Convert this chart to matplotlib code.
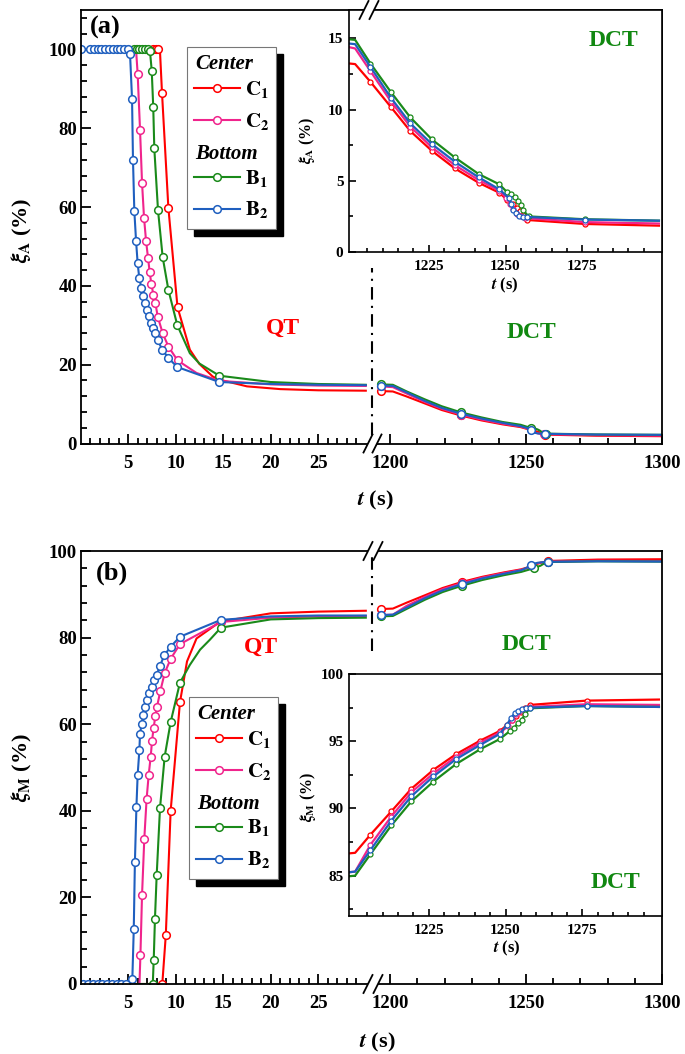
import numpy as np
import matplotlib
matplotlib.use('Agg')
import matplotlib.pyplot as plt
from matplotlib.lines import Line2D
from matplotlib.patches import Rectangle

# ------------------------------------------------------------------ data
series = ['C1', 'C2', 'B1', 'B2']
labels = {'C1': r'$\mathbf{C}_{\mathbf{1}}$', 'C2': r'$\mathbf{C}_{\mathbf{2}}$',
          'B1': r'$\mathbf{B}_{\mathbf{1}}$', 'B2': r'$\mathbf{B}_{\mathbf{2}}$'}
colors = {'C1': '#ff0000', 'C2': '#f0248c', 'B1': '#1a8a1a', 'B2': '#1f5fbf'}

# ---- panel (a): austenite fraction, quenching (QT) part
a_qt_t_C1 = [0, 7.6, 7.9, 8.18, 8.35, 8.57, 9.24, 10.2, 11.5, 12.5, 13.9, 14.6, 17.5, 21, 25, 30]
a_qt_v_C1 = [100, 100, 100, 100, 100, 89.0, 59.8, 34.6, 23.8, 20.2, 17.0, 16.2, 14.5, 13.8, 13.5, 13.4]
a_qt_nomk_C1 = [0, 4, 8, 9, 10, 11, 12, 13, 14, 15]

a_qt_t_C2 = [0, 5.84, 6.01, 6.26, 6.47, 6.68, 6.89, 7.1, 7.27, 7.45, 7.66, 7.87, 8.12, 8.64, 9.24,
             10.2, 12.2, 14.6, 20, 25, 30]
a_qt_v_C2 = [100, 100, 93.8, 79.6, 66.2, 57.3, 51.5, 47.1, 43.6, 40.5, 37.8, 35.7, 32.2, 28.0, 24.6,
             21.1, 17.9, 15.9, 15.0, 14.7, 14.6]
a_qt_nomk_C2 = [0, 16, 18, 19, 20]

a_qt_t_B1 = [0, 5.6, 5.9, 6.2, 6.5, 6.8, 7.05, 7.3, 7.49, 7.65, 7.76, 8.15, 8.64, 9.24, 10.18,
             11.5, 12.5, 14.6, 20, 25, 30]
a_qt_v_B1 = [100, 100, 100, 100, 100, 100, 100, 99.7, 94.6, 85.3, 74.9, 59.2, 47.3, 39.0, 30.0,
             22.9, 20.3, 17.2, 15.6, 15.1, 14.9]
a_qt_nomk_B1 = [0, 15, 16, 18, 19, 20]

a_qt_t_B2 = [0, 1.0, 1.4, 1.8, 2.2, 2.6, 3.0, 3.4, 3.8, 4.2, 4.6, 5.0, 5.21, 5.42, 5.52, 5.66, 5.84,
             6.01, 6.18, 6.4, 6.6, 6.8, 7.03, 7.2, 7.41, 7.66, 7.83, 8.12, 8.6, 9.24, 10.18, 14.6,
             20, 25, 30]
a_qt_v_B2 = [100, 100, 100, 100, 100, 100, 100, 100, 100, 100, 100, 100, 98.8, 87.4, 71.9, 59.0,
             51.5, 45.7, 42.0, 39.5, 37.5, 35.7, 34.0, 32.3, 30.7, 29.3, 28.0, 26.2, 23.8, 21.7,
             19.4, 15.6, 15.1, 14.9, 14.8]
a_qt_nomk_B2 = [32, 33, 34]

# ---- panel (a): deep cryogenic treatment (DCT) part
a_dct_t_C1 = [1196.5, 1201, 1206, 1212.6, 1219, 1226, 1233.5, 1241.3, 1248, 1250.6, 1252.3, 1253.7,
              1254.7, 1255.8, 1257.1, 1275.8, 1300]
a_dct_v_C1 = [13.3, 13.2, 11.95, 10.2, 8.49, 7.11, 5.87, 4.86, 4.16, 3.65, 3.37, 3.11, 2.88, 2.6,
              2.25, 1.97, 1.85]
a_dct_mk_C1 = [0, 5, 14]

a_dct_t_C2 = [1196.5, 1201, 1206, 1212.6, 1219, 1226, 1233.5, 1241.3, 1248, 1250.3, 1251.5, 1252.5,
              1253.6, 1255.0, 1256.5, 1275.8, 1300]
a_dct_v_C2 = [14.5, 14.3, 12.7, 10.6, 8.8, 7.35, 6.1, 5.05, 4.3, 3.8, 3.4, 3.0, 2.7, 2.5, 2.38,
              2.1, 2.0]
a_dct_mk_C2 = [0, 5, 14]

a_dct_t_B1 = [1196.5, 1201, 1206, 1212.6, 1219, 1226, 1233.5, 1241.3, 1248, 1250.4, 1251.9, 1253.1,
              1254.2, 1255.0, 1255.7, 1257.5, 1275.8, 1300]
a_dct_v_B1 = [15.0, 14.9, 13.24, 11.25, 9.45, 7.91, 6.64, 5.47, 4.75, 4.23, 4.05, 3.84, 3.58, 3.30,
              2.95, 2.5, 2.3, 2.2]
a_dct_mk_B1 = [0, 5, 10, 15]

a_dct_t_B2 = [1196.5, 1201, 1206, 1212.6, 1219, 1226, 1233.5, 1241.3, 1248, 1251.2, 1251.9, 1252.6,
              1253.3, 1254.4, 1255.7, 1257.1, 1275.8, 1300]
a_dct_v_B2 = [14.7, 14.6, 13.0, 10.85, 9.03, 7.58, 6.34, 5.24, 4.40, 3.77, 3.35, 2.95, 2.71, 2.53,
              2.48, 2.46, 2.28, 2.2]
a_dct_mk_B2 = [0, 5, 10, 15]

# ---- panel (b): martensite fraction, QT part
b_qt_t_C1 = [0, 8.6, 8.97, 9.48, 10.46, 11.2, 12.2, 14.7, 20, 25, 30]
b_qt_v_C1 = [0, 0, 11.3, 40.0, 65.1, 74.5, 79.8, 83.7, 85.6, 86.0, 86.2]
b_qt_nomk_C1 = [0, 5, 6, 7, 8, 9, 10]

b_qt_t_C2 = [0, 6.2, 6.3, 6.47, 6.71, 6.95, 7.17, 7.38, 7.52, 7.69, 7.87, 8.04, 8.4, 8.85, 9.48,
             10.46, 14.77, 20, 25, 30]
b_qt_v_C2 = [0, 0, 6.6, 20.5, 33.6, 42.7, 48.3, 52.5, 56.1, 59.2, 61.8, 64.0, 67.7, 71.8, 75.1,
             78.5, 83.6, 84.6, 84.9, 85.0]
b_qt_nomk_C2 = [0, 1, 17, 18, 19]

b_qt_t_B1 = [0, 7.6, 7.7, 7.83, 8.01, 8.36, 8.85, 9.48, 10.46, 11.5, 12.57, 13.6, 14.77, 20, 25, 30]
b_qt_v_B1 = [0, 0, 5.6, 15.1, 25.1, 40.6, 52.5, 60.5, 69.6, 73.7, 77.2, 79.5, 82.3, 84.2, 84.5, 84.6]
b_qt_nomk_B1 = [0, 9, 10, 11, 13, 14, 15]

b_qt_t_B2 = [0, 0.3, 0.8, 1.3, 1.8, 2.3, 2.8, 3.3, 3.8, 4.3, 4.8, 5.45, 5.6, 5.72, 5.88, 6.01, 6.19,
             6.26, 6.43, 6.61, 6.82, 7.03, 7.24, 7.48, 7.73, 8.01, 8.36, 8.81, 9.48, 10.46, 14.77,
             20, 25, 30]
b_qt_v_B2 = [0, 0, 0, 0, 0, 0, 0, 0, 0, 0, 0, 1.1, 12.6, 28.1, 40.9, 48.3, 54.0, 57.8, 60.1, 62.1,
             64.0, 65.7, 67.2, 68.7, 70.1, 71.4, 73.5, 75.9, 77.9, 80.2, 84.1, 84.9, 85.1, 85.1]
b_qt_nomk_B2 = [0, 31, 32, 33]

# ---- panel (b): DCT part
b_dct_t_C1 = [1196.5, 1201, 1206, 1212.8, 1219.3, 1226.5, 1233.9, 1241.8, 1248.2, 1250.5, 1252,
              1253.5, 1255, 1256.5, 1258, 1276.4, 1300]
b_dct_v_C1 = [86.6, 86.7, 88.05, 89.78, 91.46, 92.87, 94.04, 95.05, 95.77, 96.2, 96.6, 96.9, 97.2,
              97.45, 97.7, 98.02, 98.1]
b_dct_mk_C1 = [0, 5, 14]

b_dct_t_C2 = [1196.5, 1201, 1206, 1212.8, 1219.3, 1226.5, 1233.9, 1241.8, 1248.2, 1250.8, 1252.2,
              1253.5, 1254.8, 1256.2, 1258, 1276.4, 1300]
b_dct_v_C2 = [85.2, 85.3, 87.3, 89.4, 91.2, 92.6, 93.85, 94.9, 95.65, 96.1, 96.6, 97.0, 97.25,
              97.4, 97.55, 97.75, 97.7]
b_dct_mk_C2 = [0, 5, 14]

b_dct_t_B1 = [1196.5, 1201, 1206, 1212.8, 1219.3, 1226.5, 1233.9, 1241.8, 1248.2, 1251.5, 1252.8,
              1254.1, 1255.3, 1256.4, 1258, 1276.4, 1300]
b_dct_v_B1 = [84.9, 85.0, 86.6, 88.74, 90.52, 92.0, 93.3, 94.41, 95.17, 95.77, 96.0, 96.34, 96.6,
              97.03, 97.45, 97.62, 97.55]
b_dct_mk_B1 = [0, 5, 10, 14]

b_dct_t_B2 = [1196.5, 1201, 1206, 1212.8, 1219.3, 1226.5, 1233.9, 1241.8, 1248.2, 1250.4, 1251.7,
              1253.0, 1254.2, 1255.5, 1256.8, 1258, 1276.4, 1300]
b_dct_v_B2 = [85.2, 85.3, 86.9, 89.1, 90.9, 92.38, 93.67, 94.73, 95.55, 96.2, 96.7, 97.08, 97.28,
              97.38, 97.45, 97.5, 97.62, 97.55]
b_dct_mk_B2 = [0, 5, 10, 15]

main_xticks = [5, 10, 15, 20, 25, 1200, 1250, 1300]
main_xticklabels = ['5', '10', '15', '20', '25', '1200', '1250', '1300']
inset_xticks = [1225, 1250, 1275]

g = globals()

# ------------------------------------------------------------------ style
plt.rcParams['font.family'] = ['Liberation Serif', 'DejaVu Serif']
plt.rcParams['font.weight'] = 'bold'
plt.rcParams['mathtext.fontset'] = 'stix'
plt.rcParams['axes.linewidth'] = 1.3

W, H = 685, 1054
fig = plt.figure(figsize=(W / 100, H / 100), dpi=100)


def fx(x):
    return x / W


def fy(y):
    return 1 - y / H


def rect(l, t, r, b):
    return [l / W, 1 - b / H, (r - l) / W, (b - t) / H]


# broken x axis via a piecewise-linear function scale
A_L, A_R = 80.5, 662.0
L_END, R_START = 30.5, 1195.0
KL = 9.51
GAP = 6.0
U1 = L_END * KL
U2 = U1 + GAP
KR = ((A_R - A_L) - U2) / (1300 - R_START)


def fwd(t):
    t = np.asarray(t, dtype=float)
    return np.where(t <= L_END, t * KL,
                    np.where(t >= R_START, U2 + (t - R_START) * KR,
                             U1 + (t - L_END) * GAP / (R_START - L_END)))


def inv(u):
    u = np.asarray(u, dtype=float)
    return np.where(u <= U1, u / KL,
                    np.where(u >= U2, R_START + (u - U2) / KR,
                             L_END + (u - U1) * (R_START - L_END) / GAP))


def style_main(ax, ylim, yticks, yminor):
    ax.set_xscale('function', functions=(fwd, inv))
    ax.set_xlim(0, 1300)
    ax.set_ylim(*ylim)
    ax.set_xticks(main_xticks)
    ax.set_xticklabels(main_xticklabels)
    minor = [m for m in range(1, 30) if m % 5] + [1210, 1220, 1230, 1240, 1260, 1270, 1280, 1290]
    ax.set_xticks(minor, minor=True)
    ax.set_yticks(yticks)
    ax.set_yticks(yminor, minor=True)
    ax.tick_params(which='both', direction='in', top=False, right=False, width=1.3)
    ax.tick_params(which='major', length=7, labelsize=13.5)
    ax.tick_params(which='minor', length=4)
    ax.tick_params(axis='x', which='major', pad=8)
    ax.tick_params(axis='y', which='major', pad=2.5)


def style_inset(ax, ylim, yticks, yminor):
    ax.set_xlim(1199, 1301)
    ax.set_ylim(*ylim)
    ax.set_xticks(inset_xticks)
    ax.set_xticks([m for m in range(1205, 1300, 5) if m not in inset_xticks], minor=True)
    ax.set_yticks(yticks)
    ax.set_yticks(yminor, minor=True)
    ax.tick_params(which='both', direction='in', top=False, right=False, width=1.2)
    ax.tick_params(which='major', length=5, labelsize=11)
    ax.tick_params(which='minor', length=3)
    ax.tick_params(axis='x', which='major', pad=6)
    ax.tick_params(axis='y', which='major', pad=4)
    for s in ax.spines.values():
        s.set_linewidth(1.2)


def mk_from_nomk(n, nomk):
    return [i for i in range(n) if i not in nomk]


def draw_panel(p, ax_main, ax_in):
    for s in series:
        c = colors[s]
        qt_t = g[f'{p}_qt_t_{s}']
        qt_v = g[f'{p}_qt_v_{s}']
        qt_mk = mk_from_nomk(len(qt_t), g[f'{p}_qt_nomk_{s}'])
        dt = g[f'{p}_dct_t_{s}']
        dv = g[f'{p}_dct_v_{s}']
        dmk = g[f'{p}_dct_mk_{s}']
        kw = dict(color=c, lw=1.5, marker='o', ms=5.5, mfc='white', mec=c, mew=1.1)
        ax_main.plot(qt_t, qt_v, markevery=qt_mk, **kw)
        ax_main.plot(dt, dv, markevery=dmk, **kw)
        imk = [i for i in range(len(dt)) if i not in (1, len(dt) - 1)]
        ax_in.plot(dt, dv, color=c, lw=1.6, marker='o', ms=3.6, mfc='white', mec=c, mew=0.9,
                   markevery=imk)


def draw_legend(x0, y0):
    w, h = 89, 182
    fig.add_artist(Rectangle((fx(x0 + 7), fy(y0 + 7 + h)), w / W, h / H, transform=fig.transFigure,
                             facecolor='black', edgecolor='black', zorder=20))
    fig.add_artist(Rectangle((fx(x0), fy(y0 + h)), w / W, h / H, transform=fig.transFigure,
                             facecolor='white', edgecolor='#777777', lw=0.8, zorder=21))
    fig.text(fx(x0 + 8), fy(y0 + 17), 'Center', fontsize=15, style='italic', fontweight='bold',
             va='center', ha='left', zorder=22)
    fig.text(fx(x0 + 8), fy(y0 + 107), 'Bottom', fontsize=15, style='italic', fontweight='bold',
             va='center', ha='left', zorder=22)
    rows = {'C1': 41, 'C2': 73, 'B1': 130, 'B2': 162}
    for s in series:
        yr = y0 + rows[s]
        c = colors[s]
        fig.add_artist(Line2D([fx(x0 + 7), fx(x0 + 53)], [fy(yr), fy(yr)], transform=fig.transFigure,
                              color=c, lw=1.5, zorder=22))
        fig.add_artist(Line2D([fx(x0 + 30)], [fy(yr)], transform=fig.transFigure, color=c, lw=0,
                              marker='o', ms=5.5, mfc='white', mec=c, mew=1.1, zorder=23))
        fig.text(fx(x0 + 58), fy(yr + 1), labels[s], fontsize=15, va='center', ha='left', zorder=22)


def slash(xc, yc, dx=4.5, dy=9):
    fig.add_artist(Line2D([fx(xc - dx), fx(xc + dx)], [fy(yc + dy), fy(yc - dy)],
                          transform=fig.transFigure, color='black', lw=1.3, zorder=31))


def axis_break(x1, x2, yc):
    fig.add_artist(Line2D([fx(x1), fx(x2)], [fy(yc), fy(yc)], transform=fig.transFigure,
                          color='white', lw=3, zorder=30, solid_capstyle='butt'))
    slash(x1, yc)
    slash(x2, yc)


def dashdot(ax, y0, y1):
    xf = (372 - A_L) / (A_R - A_L)
    ax.plot([xf, xf], [y0, y1], transform=ax.transAxes, color='black', lw=1.5,
            ls=(0, (6, 3, 1, 3)), clip_on=False, zorder=5)


xi_t = r'$\mathbfit{t}$ (s)'

# ------------------------------------------------------------------ panel (a)
axA = fig.add_axes(rect(80.5, 10, 662, 443.5))
style_main(axA, (0, 110), list(range(0, 101, 20)), [v for v in range(4, 110, 4) if v % 20])
axAi = fig.add_axes(rect(349, 10, 662, 252))
style_inset(axAi, (0, 17), [0, 5, 10, 15], [2.5, 7.5, 12.5])
draw_panel('a', axA, axAi)
dashdot(axA, 2.2 / 110, 44.6 / 110)

fig.text(fx(105), fy(27), '(a)', fontsize=19, ha='center', va='center')
fig.text(fx(283), fy(328), 'QT', fontsize=17, color='#ff0000', ha='center', va='center')
fig.text(fx(531), fy(332), 'DCT', fontsize=17, color='#118811', ha='center', va='center')
fig.text(fx(613), fy(41), 'DCT', fontsize=17, color='#118811', ha='center', va='center')
fig.text(fx(22), fy(230), r'$\xi_{\mathbf{A}}$ (%)', fontsize=16, rotation=90, ha='center', va='center')
fig.text(fx(307), fy(140), r'$\xi_{\mathbf{A}}$ (%)', fontsize=11.5, rotation=90, ha='center', va='center')
fig.text(fx(375), fy(500), xi_t, fontsize=16, ha='center', va='center')
fig.text(fx(505), fy(285), xi_t, fontsize=12, ha='center', va='center')
draw_legend(187, 47)
axis_break(368, 377, 443.5)
axis_break(364, 374, 10)

# ------------------------------------------------------------------ panel (b)
axB = fig.add_axes(rect(80.5, 551, 662, 984))
style_main(axB, (0, 100), list(range(0, 101, 20)), [v for v in range(4, 100, 4) if v % 20])
axBi = fig.add_axes(rect(349, 674, 662, 916))
style_inset(axBi, (82, 100), [85, 90, 95, 100], [82.5, 87.5, 92.5, 97.5])
draw_panel('b', axB, axBi)
dashdot(axB, 76.8 / 100, 0.995)

fig.text(fx(112), fy(573), '(b)', fontsize=19, ha='center', va='center')
fig.text(fx(261), fy(647), 'QT', fontsize=17, color='#ff0000', ha='center', va='center')
fig.text(fx(526), fy(644), 'DCT', fontsize=17, color='#118811', ha='center', va='center')
fig.text(fx(615), fy(883), 'DCT', fontsize=17, color='#118811', ha='center', va='center')
fig.text(fx(22), fy(768), r'$\xi_{\mathbf{M}}$ (%)', fontsize=16, rotation=90, ha='center', va='center')
fig.text(fx(308), fy(797), r'$\xi_{\mathbf{M}}$ (%)', fontsize=11.5, rotation=90, ha='center', va='center')
fig.text(fx(377), fy(1042), xi_t, fontsize=16, ha='center', va='center')
fig.text(fx(507), fy(948), xi_t, fontsize=12, ha='center', va='center')
draw_legend(189, 697)
axis_break(368, 378, 984)
axis_break(368, 378, 551)

fig.savefig('out.png', dpi=100)
